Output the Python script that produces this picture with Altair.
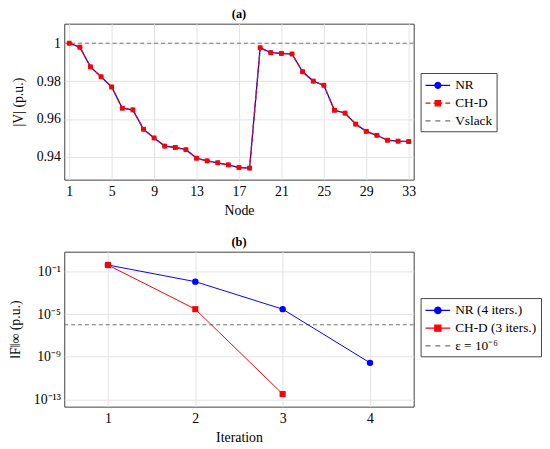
import math
import altair as alt
import pandas as pd

FONT = "Liberation Serif"

# ---------------- data: panel (a) ----------------
nodes = list(range(1, 34))
v_nr = [1.0000, 0.9979, 0.9875, 0.9823, 0.9769, 0.9657, 0.9648, 0.9546, 0.9500, 0.9457,
        0.9450, 0.9438, 0.9393, 0.9379, 0.9369, 0.9358, 0.9344, 0.9341, 0.9976, 0.9950,
        0.9946, 0.9943, 0.9849, 0.9800, 0.9778, 0.9646, 0.9631, 0.9573, 0.9535, 0.9514,
        0.9488, 0.9483, 0.9481]
v_chd = [1.0000, 0.9979, 0.9875, 0.9823, 0.9769, 0.9657, 0.9648, 0.9546, 0.9500, 0.9457,
         0.9450, 0.9438, 0.9393, 0.9379, 0.9369, 0.9358, 0.9344, 0.9341, 0.9976, 0.9950,
         0.9946, 0.9943, 0.9849, 0.9800, 0.9778, 0.9646, 0.9631, 0.9573, 0.9535, 0.9514,
         0.9488, 0.9483, 0.9481]
v_slack = 1.0
node_ticks = [1, 5, 9, 13, 17, 21, 25, 29, 33]
v_ticks = [0.94, 0.96, 0.98, 1.0]
legend_a = ["NR", "CH-D", "Vslack"]

# ---------------- data: panel (b) ----------------
iters_nr = [1, 2, 3, 4]
res_nr = [0.4, 1.1e-2, 2.9e-5, 2.7e-10]
iters_chd = [1, 2, 3]
res_chd = [0.4, 2.9e-5, 3.2e-13]
eps = 1e-6
iter_ticks = [1, 2, 3, 4]
res_ticks = [1e-1, 1e-5, 1e-9, 1e-13]
res_tick_labels = ["10⁻¹", "10⁻⁵", "10⁻⁹", "10⁻¹³"]
legend_b = ["NR (4 iters.)", "CH-D (3 iters.)", "ε = 10⁻⁶"]

BLUE, RED, GREY = "#0000ff", "#ff0000", "#707070"

# ---------------- legend symbol paths ----------------
SYM = 225                 # symbol size -> 15 px unit box
S = math.sqrt(SYM) / 2.0  # px per path unit
W = 25.0                  # visible symbol width in px


def u(px):
    return (px - S) / S


def seg(p0, p1):
    return f"M{u(p0):.3f},0 L{u(p1):.3f},0 "


def circle(cpx, rpx, n=20):
    pts = [(u(cpx) + rpx / S * math.cos(2 * math.pi * k / n), rpx / S * math.sin(2 * math.pi * k / n))
           for k in range(n)]
    return "M" + " L".join(f"{x:.3f},{y:.3f}" for x, y in pts) + " Z "


def square(cpx, hpx):
    c, h = u(cpx), hpx / S
    return f"M{c-h:.3f},{-h:.3f} L{c+h:.3f},{-h:.3f} L{c+h:.3f},{h:.3f} L{c-h:.3f},{h:.3f} Z "


mid = W / 2
p_nr_a = seg(0, W) + circle(mid, 3.0)
p_chd_a = seg(0, 5) + seg(8, 11) + seg(14, 17) + seg(20, W) + square(mid, 2.7)
p_dash = seg(0, 5) + seg(10, 15) + seg(20, W)
p_nr_b = seg(0, W) + circle(mid, 3.3)
p_chd_b = seg(0, W) + square(mid, 3.1)


def make_legend(lx, ly):
    return alt.Legend(title=None, orient="none", legendX=lx, legendY=ly,
                      labelFont=FONT, labelFontSize=13.5, labelColor="black",
                      symbolSize=SYM, symbolStrokeWidth=1.2, symbolOpacity=1,
                      labelOffset=W - 2 * S + 4, strokeColor="#444444", fillColor="white",
                      padding=4, rowPadding=3, cornerRadius=0)


def legend_layer(names, paths, colors, lx, ly):
    sc_shape = alt.Scale(domain=names, range=paths)
    sc_col = alt.Scale(domain=names, range=colors)
    lg = make_legend(lx, ly)
    return alt.Chart(pd.DataFrame({"s": names})).transform_filter("false").mark_point(
        filled=True, strokeWidth=1.2
    ).encode(
        shape=alt.Shape("s:N", scale=sc_shape, legend=lg),
        fill=alt.Fill("s:N", scale=sc_col, legend=lg),
        stroke=alt.Stroke("s:N", scale=sc_col, legend=lg),
    )


# ---------------- panel (a) ----------------
df_a = pd.DataFrame({"node": nodes, "nr": v_nr, "chd": v_chd})
xa = alt.X("node:Q", scale=alt.Scale(domain=[0.53, 33.47], nice=False, zero=False),
           axis=alt.Axis(values=node_ticks, title="Node", labelPadding=5, titlePadding=5))
ya_axis = alt.Axis(values=v_ticks, title="|V| (p.u.)", labelPadding=4, titlePadding=11,
                   labelExpr="datum.value == 1 ? '1' : format(datum.value, '.2f')")
ya_scale = alt.Scale(domain=[0.928, 1.0103], nice=False, zero=False)

base_a = alt.Chart(df_a)
slack_a = alt.Chart(pd.DataFrame({"v": [v_slack]})).mark_rule(
    color=GREY, strokeDash=[4, 3], strokeWidth=1
).encode(y=alt.Y("v:Q", scale=ya_scale, axis=ya_axis))
nr_line = base_a.mark_line(color=BLUE, strokeWidth=1.3).encode(
    x=xa, y=alt.Y("nr:Q", scale=ya_scale, axis=ya_axis))
nr_pts = base_a.mark_point(filled=True, color=BLUE, shape="circle", size=22, opacity=1).encode(
    x=xa, y=alt.Y("nr:Q", scale=ya_scale, axis=ya_axis))
chd_line = base_a.mark_line(color=RED, strokeWidth=1.3, strokeDash=[4, 3]).encode(
    x=xa, y=alt.Y("chd:Q", scale=ya_scale, axis=ya_axis))
chd_pts = base_a.mark_point(filled=True, color=RED, shape="square", size=24, opacity=1).encode(
    x=xa, y=alt.Y("chd:Q", scale=ya_scale, axis=ya_axis))
leg_a = legend_layer(legend_a, [p_nr_a, p_chd_a, p_dash], [BLUE, RED, GREY], 361, 50)

chart_a = alt.layer(slack_a, nr_line, nr_pts, chd_line, chd_pts, leg_a).properties(
    width=354, height=158,
    title=alt.TitleParams("(a)", font=FONT, fontSize=12.5, fontWeight="bold", offset=3, anchor="middle"),
)

# ---------------- panel (b) ----------------
df_nr = pd.DataFrame({"it": iters_nr, "r": res_nr})
df_chd = pd.DataFrame({"it": iters_chd, "r": res_chd})
label_expr = " : ".join(
    f"datum.value > {v / 10:g} ? '{lab}'" for v, lab in zip(res_ticks[:-1], res_tick_labels[:-1])
) + f" : '{res_tick_labels[-1]}'"
xb = alt.X("it:Q", scale=alt.Scale(domain=[0.5, 4.5], nice=False, zero=False),
           axis=alt.Axis(values=iter_ticks, title="Iteration", labelPadding=5, titlePadding=5))
yb_scale = alt.Scale(type="log", domain=[2.1e-14, 7.1], nice=False)
yb_axis = alt.Axis(values=res_ticks, title="‖F‖∞ (p.u.)", labelExpr=label_expr,
                   labelPadding=4, titlePadding=11)
yb = alt.Y("r:Q", scale=yb_scale, axis=yb_axis)

eps_rule = alt.Chart(pd.DataFrame({"r": [eps]})).mark_rule(
    color=GREY, strokeDash=[4, 3], strokeWidth=1).encode(y=yb)
nrb_line = alt.Chart(df_nr).mark_line(color=BLUE, strokeWidth=1).encode(x=xb, y=yb)
nrb_pts = alt.Chart(df_nr).mark_point(filled=True, color=BLUE, shape="circle", size=42, opacity=1).encode(x=xb, y=yb)
chdb_line = alt.Chart(df_chd).mark_line(color=RED, strokeWidth=1).encode(x=xb, y=yb)
chdb_pts = alt.Chart(df_chd).mark_point(filled=True, color=RED, shape="square", size=38, opacity=1).encode(x=xb, y=yb)
leg_b = legend_layer(legend_b, [p_nr_b, p_chd_b, p_dash], [BLUE, RED, GREY], 361, 47)

chart_b = alt.layer(eps_rule, nrb_line, chdb_line, nrb_pts, chdb_pts, leg_b).properties(
    width=354, height=157,
    title=alt.TitleParams("(b)", font=FONT, fontSize=12.5, fontWeight="bold", offset=3, anchor="middle"),
)

chart = alt.vconcat(chart_a, chart_b, spacing=73, bounds="flush").resolve_scale(
    shape="independent", fill="independent", stroke="independent", x="independent", y="independent"
).resolve_legend(shape="independent", fill="independent", stroke="independent").properties(
    padding={"left": 0, "top": -3, "right": 0, "bottom": 0}
).configure_view(
    stroke="#404040", strokeWidth=1
).configure_axis(
    labelFont=FONT, titleFont=FONT, labelFontSize=14, titleFontSize=14,
    titleFontWeight="normal", labelColor="black", titleColor="black",
    grid=True, gridColor="#e3e3e3", gridWidth=1, domain=False, ticks=False, tickSize=0,
)

chart.save("out.html", embed_options={"renderer": "svg", "actions": False})
